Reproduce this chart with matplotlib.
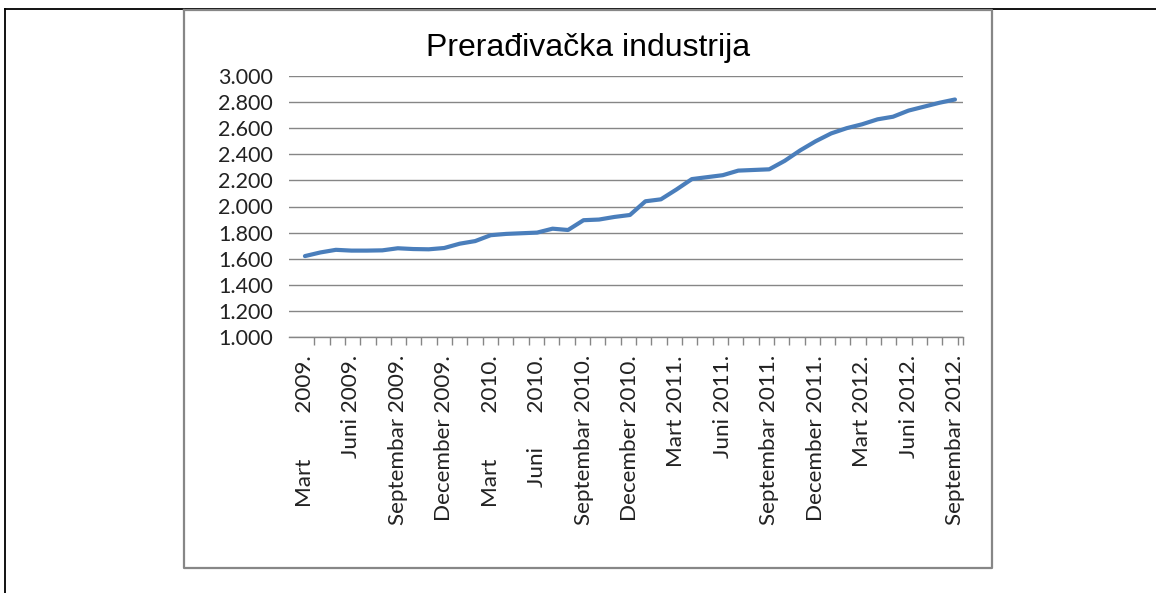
import numpy as np
import matplotlib.pyplot as plt
from matplotlib.lines import Line2D
from matplotlib.ticker import FuncFormatter

# monthly values, Mart 2009 .. Septembar 2012
months = np.arange(43)
values = [1620, 1648, 1668, 1662, 1662, 1664, 1680, 1674, 1672, 1682,
          1715, 1735, 1780, 1790, 1795, 1800, 1830, 1820, 1895, 1900,
          1920, 1935, 2040, 2055, 2130, 2210, 2225, 2240, 2275, 2280,
          2285, 2350, 2430, 2500, 2560, 2600, 2630, 2668, 2688, 2735,
          2765, 2795, 2820]

label_pos = np.arange(0, 43, 3)
labels = ['Mart        2009.', 'Juni 2009.', 'Septembar 2009.', 'December 2009.',
          'Mart        2010.', 'Juni      2010.', 'Septembar 2010.', 'December 2010.',
          'Mart 2011.', 'Juni 2011.', 'Septembar 2011.', 'December 2011.',
          'Mart 2012.', 'Juni 2012.', 'Septembar 2012.']

W, H = 1156, 593
fig = plt.figure(figsize=(W / 100, H / 100), dpi=100)

# outer page frame and chart box
def px_line(x, y, color, lw):
    fig.add_artist(Line2D([xx / W for xx in x], [1 - yy / H for yy in y],
                          color=color, lw=lw, transform=fig.transFigure))

px_line([5, W], [9, 9], 'black', 1.3)
px_line([5, 5], [9, H], 'black', 1.3)
px_line([184, 992, 992, 184, 184], [10, 10, 568, 568, 10], '#878787', 1.6)

ax = fig.add_axes([289 / W, 1 - 337 / H, (963 - 289) / W, (337 - 76) / H])
ax.plot(months, values, color='#4a7ebb', lw=3.0, solid_capstyle='round')

ax.set_xlim(-1.03, 42.52)
ax.set_ylim(1000, 3000)
ax.set_yticks(np.arange(1000, 3001, 200))
ax.yaxis.set_major_formatter(FuncFormatter(lambda v, p: f'{int(v):,}'.replace(',', '.')))
ax.grid(axis='y', color='#868686', lw=1.0)
ax.set_axisbelow(True)

for s in ['left', 'right', 'top']:
    ax.spines[s].set_visible(False)
ax.spines['bottom'].set_color('#868686')
ax.spines['bottom'].set_linewidth(1.0)

ax.tick_params(axis='y', length=0, pad=11.5, labelsize=15.5, labelcolor='#222222')
ax.set_xticks(label_pos)
ax.set_xticklabels(labels, rotation=90, fontsize=16.2, color='#222222', va='top', ha='center')
ax.tick_params(axis='x', length=0, pad=13)
ax.set_xticks(np.append(np.arange(0.6, 42.5, 0.99), 42.52), minor=True)
ax.tick_params(axis='x', which='minor', length=5.8, color='#868686', width=1)
for lab in ax.get_xticklabels() + ax.get_yticklabels():
    lab.set_family('Lato')

fig.text(588 / W, 1 - 48 / H, 'Prerađivačka industrija', ha='center', va='center',
         fontsize=23, family='Liberation Sans', color='black')

fig.savefig('out.png', dpi=100, facecolor='white')
